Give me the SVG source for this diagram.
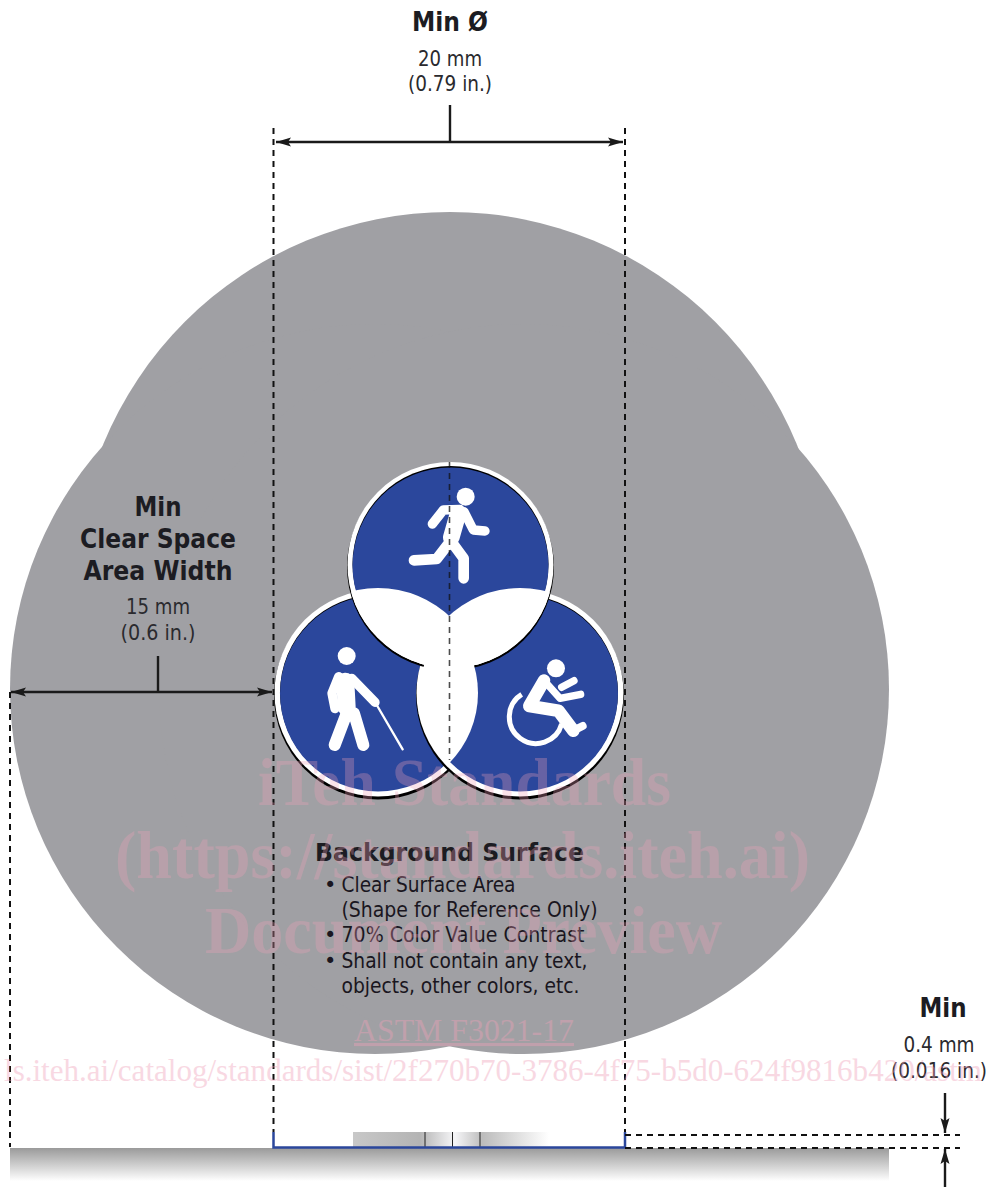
<svg xmlns="http://www.w3.org/2000/svg" width="991" height="1187" viewBox="0 0 991 1187">
<style>
text{font-family:"DejaVu Sans","Liberation Sans",sans-serif;fill:#1c1c22}
.h{font-weight:700;font-size:26px;text-anchor:middle}
.d{font-size:21px;text-anchor:middle;fill:#2a2a2e}
.b{font-size:21px;fill:#1a1620}
.wm{font-family:"Liberation Serif",serif;fill:#f0a0b8;opacity:.3;font-weight:700;font-size:68px}
.wn{font-family:"Liberation Serif",serif;fill:#f0a0b8;opacity:.4;font-size:31px}
.dash{fill:none;stroke:#111;stroke-width:2;stroke-dasharray:6 5}
.dim{fill:none;stroke:#1a1a1a;stroke-width:2.400}
.ic{fill:none;stroke:#fff;stroke-linecap:round;stroke-linejoin:round}
</style>
<defs>
<marker id="ar" markerUnits="userSpaceOnUse" markerWidth="16" markerHeight="10" refX="15" refY="5" orient="auto-start-reverse"><path d="M0 0.500L15 5L0 9.500L3 5Z" fill="#1a1a1a"/></marker>
<linearGradient id="ground" x1="0" y1="0" x2="0" y2="1"><stop offset="0" stop-color="#9a9a9a"/><stop offset="1" stop-color="#fff"/></linearGradient>
<linearGradient id="bar" x1="0" y1="0" x2="1" y2="0"><stop offset="0" stop-color="#c8c8c8"/><stop offset=".34" stop-color="#b4b4b4"/><stop offset=".52" stop-color="#f6f6f8"/><stop offset=".66" stop-color="#bcbcbc"/><stop offset="1" stop-color="#fff"/></linearGradient>
<clipPath id="cT"><circle cx="450.500" cy="565" r="103"/></clipPath>
<clipPath id="cL"><circle cx="378" cy="693" r="100"/></clipPath>
</defs>

<g id="clear-space" fill="#a0a0a4">
<circle cx="450" cy="587" r="375"/><circle cx="375" cy="689" r="365"/><circle cx="524" cy="689" r="365"/>
</g>

<g id="surface">
<rect x="10" y="1148" width="879" height="33" fill="url(#ground)"/>
<rect x="353" y="1132" width="196" height="15" fill="url(#bar)"/>
<path d="M425 1132V1147M452.500 1132V1147M480 1132V1147" stroke="#222" stroke-width="1"/>
<path d="M273.500 1132V1147.500H625V1132" fill="none" stroke="#2b479c" stroke-width="2.500"/>
</g>

<g id="symbol">
<g id="circle-left">
<circle cx="378" cy="695.500" r="104"/>
<circle cx="378" cy="693" r="103.500" fill="#fff"/>
<circle cx="378" cy="692.500" r="98"/>
<circle cx="378" cy="693.500" r="98" fill="#2b479c"/>
</g>
<g id="circle-right">
<circle cx="520" cy="695.500" r="104"/>
<circle cx="520" cy="693" r="103.500" fill="#fff"/>
<circle cx="520" cy="692.500" r="98"/>
<circle cx="520" cy="693.500" r="98" fill="#2b479c"/>
</g>
<g id="circle-top">
<circle cx="450.500" cy="567" r="103.500"/>
<circle cx="450.500" cy="565" r="103" fill="#fff"/>
<circle cx="450.500" cy="564" r="98"/>
<circle cx="450.500" cy="565.500" r="98" fill="#2b479c"/>
</g>
<g id="overlaps" fill="#fff">
<g clip-path="url(#cT)"><circle cx="378" cy="693" r="105"/><circle cx="520" cy="693" r="105"/></g>
<g clip-path="url(#cL)"><circle cx="520" cy="693" r="100"/></g>
</g>
<g id="icons" transform="translate(260 450) scale(.33333)">
<g id="runner">
<circle cx="617" cy="140" r="27" fill="#fff"/>
<path class="ic" stroke-width="50" d="M594 192L574 262"/>
<path class="ic" stroke-width="28" d="M517 222L550 180L600 178M612 185L640 240L675 243"/>
<path class="ic" stroke-width="32" d="M574 270L530 327L462 331M578 280L611 325L611 385"/>
</g>
<g id="walker">
<circle cx="260" cy="618" r="27" fill="#fff"/>
<path class="ic" stroke-width="54" d="M256 695L260 772"/>
<path class="ic" stroke-width="28" d="M236 680L216 730L225 776M275 685L345 757"/>
<path class="ic" stroke-width="36" d="M262 785L224 885M282 790L310 885"/>
<path class="ic" stroke-width="7" d="M352 768L428 898"/>
</g>
<g id="wheelchair">
<circle cx="888" cy="655" r="27" fill="#fff"/>
<path class="ic" stroke-width="38" d="M852 692L808 768L895 782L940 842"/>
<path class="ic" stroke-width="24" d="M940 842L968 828"/>
<path class="ic" stroke-width="22" d="M855 695L900 745L962 733M905 712L942 692"/>
<path fill="none" stroke="#fff" stroke-width="15" d="M785 733A80 80 0 1 0 905 822"/>
</g>
</g>
</g>

<g id="connectors">
<path class="dash" d="M273.500 128V1132M625 128V1132M10 692V1147"/>
<path d="M449.500 462V760" fill="none" stroke="#111" stroke-width="1.600" stroke-dasharray="6 5" opacity=".75"/>
<path class="dash" d="M625 1135H960M625 1148H960"/>
<path class="dim" d="M276 142H623" marker-start="url(#ar)" marker-end="url(#ar)"/>
<path class="dim" d="M450 105V142"/>
<path class="dim" d="M11 692H272" marker-start="url(#ar)" marker-end="url(#ar)"/>
<path class="dim" d="M158 656V692"/>
<path class="dim" d="M945 1093V1133" marker-end="url(#ar)"/>
<path class="dim" d="M945 1187V1149" marker-end="url(#ar)"/>
</g>

<g id="label-diameter">
<text class="h" x="450" y="31" textLength="76" lengthAdjust="spacingAndGlyphs">Min Ø</text>
<text class="d" x="450" y="65.500" textLength="64" lengthAdjust="spacingAndGlyphs">20 mm</text>
<text class="d" x="450" y="91" textLength="84" lengthAdjust="spacingAndGlyphs">(0.79 in.)</text>
</g>
<g id="label-clear-space">
<text class="h" x="158" y="516" textLength="47" lengthAdjust="spacingAndGlyphs">Min</text>
<text class="h" x="158" y="548" textLength="156" lengthAdjust="spacingAndGlyphs">Clear Space</text>
<text class="h" x="158" y="580" textLength="149" lengthAdjust="spacingAndGlyphs">Area Width</text>
<text class="d" x="158" y="614" textLength="64" lengthAdjust="spacingAndGlyphs">15 mm</text>
<text class="d" x="158" y="640" textLength="75" lengthAdjust="spacingAndGlyphs">(0.6 in.)</text>
</g>
<g id="label-thickness">
<text class="h" x="943" y="1017" textLength="47" lengthAdjust="spacingAndGlyphs">Min</text>
<text class="d" x="939" y="1052" textLength="71" lengthAdjust="spacingAndGlyphs">0.4 mm</text>
<text class="d" x="939" y="1078" textLength="96" lengthAdjust="spacingAndGlyphs">(0.016 in.)</text>
</g>
<g id="label-surface">
<text x="315" y="861" font-size="25" font-weight="700" fill="#150f1a" textLength="269" lengthAdjust="spacingAndGlyphs">Background Surface</text>
<text class="b" x="324" y="892">•</text>
<text class="b" x="341.500" y="892" textLength="174" lengthAdjust="spacingAndGlyphs">Clear Surface Area</text>
<text class="b" x="341.500" y="917" textLength="256" lengthAdjust="spacingAndGlyphs">(Shape for Reference Only)</text>
<text class="b" x="324" y="942">•</text>
<text class="b" x="341.500" y="942" textLength="243" lengthAdjust="spacingAndGlyphs">70% Color Value Contrast</text>
<text class="b" x="324" y="968">•</text>
<text class="b" x="341.500" y="968" textLength="246" lengthAdjust="spacingAndGlyphs">Shall not contain any text,</text>
<text class="b" x="341.500" y="993" textLength="238" lengthAdjust="spacingAndGlyphs">objects, other colors, etc.</text>
</g>

<g id="watermark">
<text class="wm" x="258" y="805" textLength="413" lengthAdjust="spacingAndGlyphs">iTeh Standards</text>
<text class="wm" x="115" y="878" textLength="695" lengthAdjust="spacingAndGlyphs">(https://standards.iteh.ai)</text>
<text class="wm" x="205" y="953" textLength="517" lengthAdjust="spacingAndGlyphs">Document Preview</text>
<text class="wn" x="354" y="1041" text-decoration="underline" textLength="220" lengthAdjust="spacingAndGlyphs">ASTM F3021-17</text>
<text class="wn" x="4" y="1081" textLength="978" lengthAdjust="spacingAndGlyphs">ls.iteh.ai/catalog/standards/sist/2f270b70-3786-4f75-b5d0-624f9816b420/astm</text>
</g>
</svg>
